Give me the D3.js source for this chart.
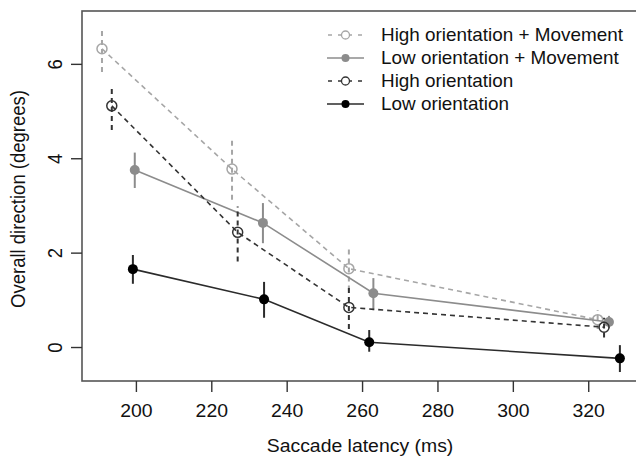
<!DOCTYPE html>
<html>
<head>
<meta charset="utf-8">
<script src="https://cdn.jsdelivr.net/npm/d3@7"></script>
<style>
  body { margin: 0; background: #fff; }
  svg { display: block; font-family: "Liberation Sans", Arial, sans-serif; }
</style>
</head>
<body>
<div class="chart"></div>
<script>
// series names
var seriesNames = ["High orientation + Movement", "Low orientation + Movement", "High orientation", "Low orientation"];

// saccade latency (ms) per series
var hiMovX = [191, 225.5, 256.5, 322.5];
var loMovX = [199.7, 233.7, 263, 325.5];
var hiX    = [193.6, 227, 256.5, 324.2];
var loX    = [199.2, 234, 261.9, 328.4];

// overall direction (degrees)
var hiMovY = [6.32, 3.77, 1.66, 0.58];
var loMovY = [3.75, 2.63, 1.14, 0.53];
var hiY    = [5.11, 2.43, 0.84, 0.42];
var loY    = [1.65, 1.01, 0.10, -0.24];

// error bar lower / upper
var hiMovLo = [5.83, 3.12, 1.20, 0.38];
var hiMovHi = [6.74, 4.43, 2.14, 0.78];
var loMovLo = [3.37, 2.20, 0.78, 0.40];
var loMovHi = [4.12, 3.05, 1.46, 0.66];
var hiLo    = [4.60, 1.81, 0.38, 0.20];
var hiHi    = [5.52, 2.98, 1.30, 0.62];
var loLo    = [1.34, 0.62, -0.10, -0.53];
var loHi    = [1.95, 1.38, 0.36, 0.04];

var xTicks = [200, 220, 240, 260, 280, 300, 320];
var yTicks = [0, 2, 4, 6];

function pack(xs, ys, lo, hi) {
  return xs.map(function(d, i){ return {x: d, y: ys[i], lo: lo[i], hi: hi[i]}; });
}

var series = [
  {name: seriesNames[0], pts: pack(hiMovX, hiMovY, hiMovLo, hiMovHi), color: "#a6a6a6", fill: "none", dash: "5,4", open: true},
  {name: seriesNames[1], pts: pack(loMovX, loMovY, loMovLo, loMovHi), color: "#8c8c8c", fill: "#8c8c8c", dash: null, open: false},
  {name: seriesNames[2], pts: pack(hiX, hiY, hiLo, hiHi),             color: "#333333", fill: "none", dash: "5,4", open: true},
  {name: seriesNames[3], pts: pack(loX, loY, loLo, loHi),             color: "#2b2b2b", fill: "#000", dash: null, open: false}
];

var width = 636, height = 459;
var fs = 18.5, sx = 1.05;   // text looks a bit wide in the source image

var svg = d3.select(".chart")
  .append("svg")
    .attr("width", width)
    .attr("height", height);

var x = d3.scaleLinear().domain([185.7, 334]).range([82, 641]);
var y = d3.scaleLinear().domain([-0.72, 7.12]).range([381, 11]);

// plot box
svg.append("rect")
  .attr("x", x.range()[0])
  .attr("y", y.range()[1])
  .attr("width", x.range()[1] - x.range()[0])
  .attr("height", y.range()[0] - y.range()[1])
  .attr("fill", "none")
  .attr("stroke", "#555")
  .attr("stroke-width", 1.6);

// x axis
var xAxis = svg.append("g")
  .attr("transform", "translate(0,381)")
  .call(d3.axisBottom(x).tickValues(xTicks).tickSize(11).tickPadding(12).tickSizeOuter(0));
xAxis.select(".domain").remove();
xAxis.selectAll("line").attr("stroke", "#333").attr("stroke-width", 1.4);
xAxis.selectAll("text")
  .attr("font-size", fs).attr("fill", "#111")
  .attr("font-family", "Liberation Sans, Arial, sans-serif")
  .attr("transform", "scale(" + sx + ",1)");

// y axis, labels rotated as in R
var yAxis = svg.append("g")
  .attr("transform", "translate(82,0)")
  .call(d3.axisLeft(y).tickValues(yTicks).tickSize(11).tickSizeOuter(0));
yAxis.select(".domain").remove();
yAxis.selectAll("line").attr("stroke", "#333").attr("stroke-width", 1.4);
yAxis.selectAll("text")
  .attr("x", 0).attr("y", 0).attr("dy", null)
  .attr("text-anchor", "middle")
  .attr("font-size", fs).attr("fill", "#111")
  .attr("font-family", "Liberation Sans, Arial, sans-serif")
  .attr("transform", "translate(-20,0) scale(" + sx + ",1) rotate(-90)");

// axis titles
svg.append("text")
  .attr("transform", "translate(360,452) scale(" + sx + ",1)")
  .attr("text-anchor", "middle")
  .attr("font-size", fs)
  .attr("fill", "#111")
  .text("Saccade latency (ms)");

svg.append("text")
  .attr("transform", "translate(25,199) scale(" + sx + ",1) rotate(-90)")
  .attr("text-anchor", "middle")
  .attr("font-size", fs)
  .attr("fill", "#111")
  .text("Overall direction (degrees)");

var line = d3.line().x(function(d){ return x(d.x); }).y(function(d){ return y(d.y); });

var g = svg.append("g");

series.forEach(function(s){
  var sg = g.append("g");
  sg.append("path")
    .datum(s.pts)
    .attr("d", line)
    .attr("fill", "none")
    .attr("stroke", s.color)
    .attr("stroke-width", 1.6)
    .attr("stroke-dasharray", s.dash);

  sg.selectAll(".err")
    .data(s.pts)
    .enter().append("line")
      .attr("x1", function(d){ return x(d.x); })
      .attr("x2", function(d){ return x(d.x); })
      .attr("y1", function(d){ return y(d.lo); })
      .attr("y2", function(d){ return y(d.hi); })
      .attr("stroke", s.color)
      .attr("stroke-width", 2)
      .attr("stroke-dasharray", s.dash);

  sg.selectAll(".pt")
    .data(s.pts)
    .enter().append("circle")
      .attr("cx", function(d){ return x(d.x); })
      .attr("cy", function(d){ return y(d.y); })
      .attr("r", 5)
      .attr("fill", s.fill)
      .attr("stroke", s.open ? s.color : "none")
      .attr("stroke-width", 1.5);
});

// legend
var legend = svg.append("g");
series.forEach(function(s, i){
  var ly = 35 + i * 23;
  legend.append("line")
    .attr("x1", 327).attr("x2", 364)
    .attr("y1", ly).attr("y2", ly)
    .attr("stroke", s.color)
    .attr("stroke-width", 1.6)
    .attr("stroke-dasharray", s.dash ? "4,6" : null)
    .attr("stroke-dashoffset", s.dash ? -1 : null);
  legend.append("circle")
    .attr("cx", 345.5).attr("cy", ly)
    .attr("r", 4)
    .attr("fill", s.open ? "#fff" : s.fill)
    .attr("stroke", s.open ? s.color : "none")
    .attr("stroke-width", 1.3);
  legend.append("text")
    .attr("transform", "translate(381," + ly + ") scale(" + sx + ",1)")
    .attr("dy", "0.35em")
    .attr("font-size", 18)
    .attr("fill", "#111")
    .text(s.name);
});
</script>
</body>
</html>
